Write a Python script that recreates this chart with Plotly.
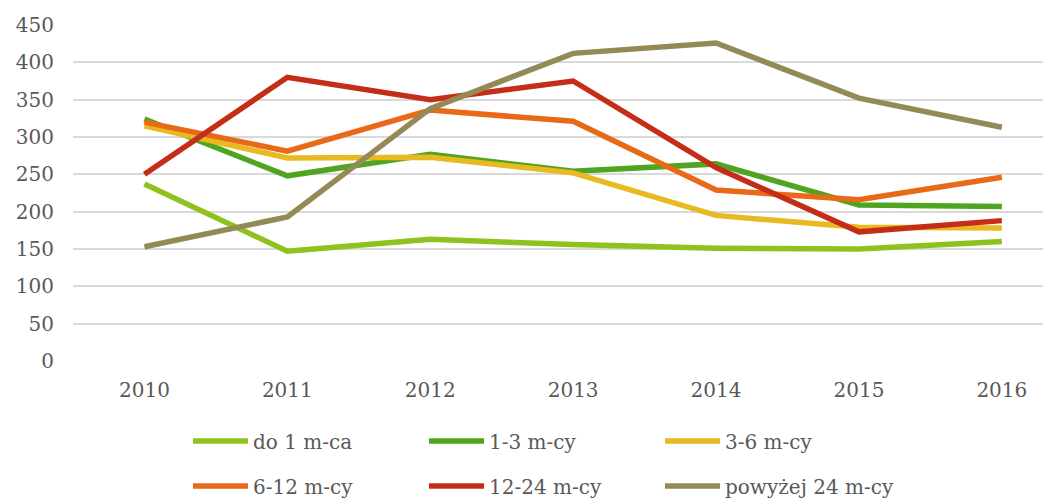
import plotly.graph_objects as go

years = ["2010", "2011", "2012", "2013", "2014", "2015", "2016"]
do_1 = [237, 147, 163, 156, 151, 150, 160]
m1_3 = [324, 248, 277, 254, 264, 209, 207]
m3_6 = [315, 272, 273, 252, 195, 179, 178]
m6_12 = [320, 281, 336, 321, 229, 216, 246]
m12_24 = [250, 380, 350, 375, 259, 173, 188]
pow24 = [153, 193, 338, 412, 426, 352, 313]

series = [
    ("do 1 m-ca", do_1, "#8FC21F", "legend"),
    ("1-3 m-cy", m1_3, "#50A520", "legend"),
    ("3-6 m-cy", m3_6, "#E8B920", "legend"),
    ("6-12 m-cy", m6_12, "#E86A18", "legend2"),
    ("12-24 m-cy", m12_24, "#C42E18", "legend2"),
    ("powyżej 24 m-cy", pow24, "#938A56", "legend2"),
]

fig = go.Figure()
for name, vals, col, leg in series:
    fig.add_trace(go.Scatter(
        x=list(range(len(years))), y=vals, name=name, mode="lines",
        line=dict(color=col, width=5.5), legend=leg,
    ))

FONT = "DejaVu Serif"
font = dict(family=FONT, size=20, color="#595959")
W, H = 1051, 498
OFF = 8  # page body margin
legcommon = dict(orientation="h", xref="container", yref="container",
                 x=(188 - OFF) / W, xanchor="left", yanchor="middle",
                 entrywidth=166, entrywidthmode="pixels", itemwidth=55,
                 font=font, traceorder="normal", bgcolor="rgba(0,0,0,0)")
fig.update_layout(
    width=W, height=H,
    margin=dict(l=73 - OFF, r=0, t=25 - OFF, b=137 + OFF, autoexpand=False),
    plot_bgcolor="white", paper_bgcolor="white",
    font=font,
    showlegend=True,
    legend=dict(legcommon, y=1 - (441 - OFF) / H),
    legend2=dict(legcommon, y=1 - (486 - OFF) / H),
    xaxis=dict(tickmode="array", tickvals=list(range(len(years))), ticktext=years,
               range=[-0.5, 6.4], showgrid=False, zeroline=False, showline=False,
               ticks="", ticklabelstandoff=15),
    yaxis=dict(range=[0, 450], tickvals=list(range(0, 451, 50)),
               showgrid=True, gridcolor="#D9D9D9", gridwidth=2, zeroline=False,
               showline=False, ticks="", ticklabelstandoff=18),
)
fig.write_html("out.html")
